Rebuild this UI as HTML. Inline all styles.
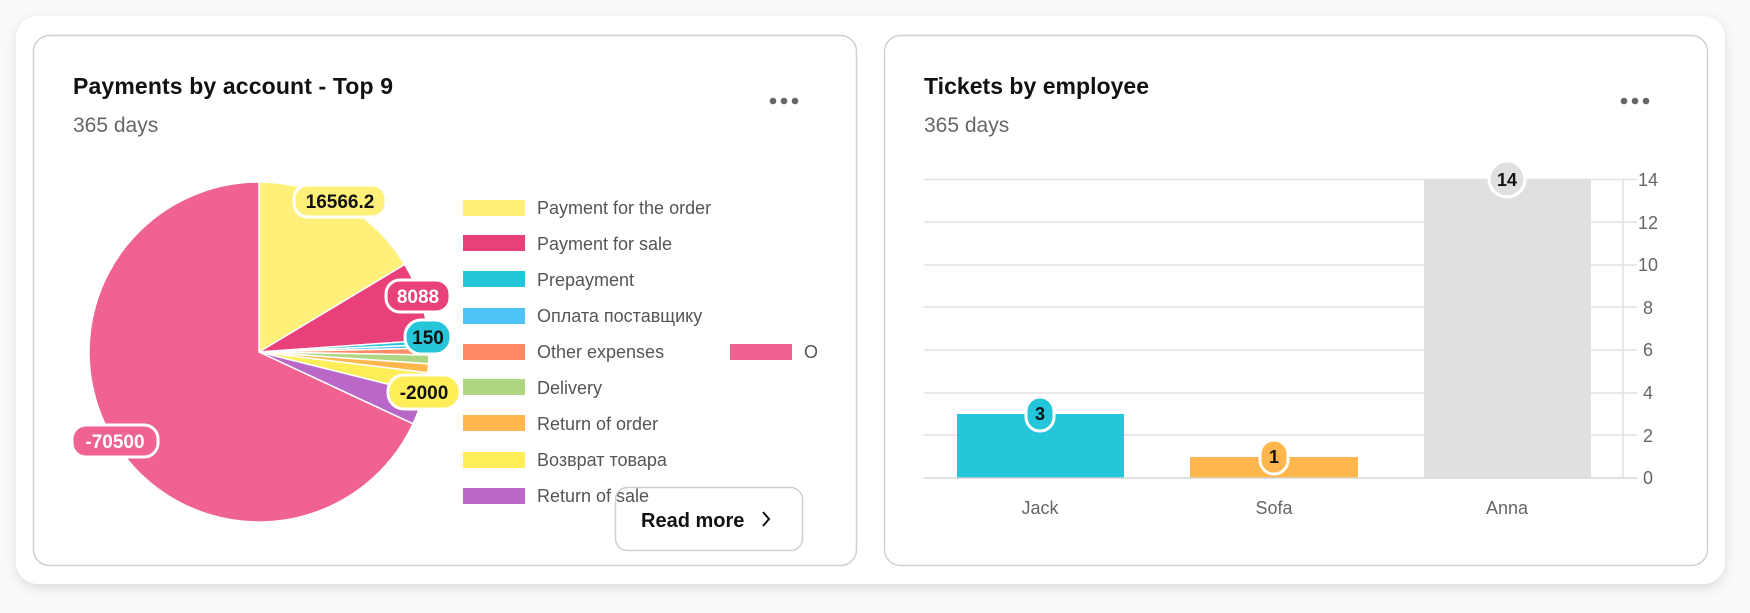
<!DOCTYPE html>
<html><head><meta charset="utf-8"><style>
body{margin:0;width:1750px;height:608px;background:#fafafa;font-family:"Liberation Sans","Noto Sans CJK SC",sans-serif;overflow:hidden}
</style></head><body>
<svg id="s" width="1750" height="608" xmlns="http://www.w3.org/2000/svg" font-family="Liberation Sans, Noto Sans CJK SC, sans-serif">
<defs><filter id="sh" x="-5%" y="-10%" width="110%" height="125%"><feDropShadow dx="0" dy="4" stdDeviation="6" flood-color="#000" flood-opacity="0.12"/></filter></defs>
<rect x="16" y="16" width="1709" height="568" rx="22" fill="#fff" filter="url(#sh)"/>
<rect x="33.5" y="35.5" width="823" height="530" rx="16" fill="#fff" stroke="#d0d0d0" stroke-width="1.5"/>
<rect x="884.5" y="35.5" width="823" height="530" rx="16" fill="#fff" stroke="#d0d0d0" stroke-width="1.5"/>
<text x="73" y="94" font-size="23" font-weight="bold" fill="#111" textLength="320">Payments by account - Top 9</text>
<text x="73" y="132" font-size="21" fill="#666">365 days</text>
<g fill="#666"><circle cx="773" cy="101" r="3.3"/><circle cx="784" cy="101" r="3.3"/><circle cx="795" cy="101" r="3.3"/></g>
<g id="pie" stroke="#fff" stroke-width="1.5"></g>
<g font-size="19" font-weight="bold">
<rect x="294" y="185" width="92" height="32" rx="14" fill="#FFF07A" stroke="#fff" stroke-width="3"/><text x="340" y="208" text-anchor="middle" fill="#111">16566.2</text>
<rect x="386" y="280" width="64" height="32" rx="14" fill="#E8407A" stroke="#fff" stroke-width="3"/><text x="418" y="303" text-anchor="middle" fill="#fff">8088</text>
<rect x="405" y="320" width="46" height="34" rx="16" fill="#26C6DA" stroke="#fff" stroke-width="3"/><text x="428" y="344" text-anchor="middle" fill="#111">150</text>
<rect x="388" y="375" width="72" height="34" rx="16" fill="#FFEE58" stroke="#fff" stroke-width="3"/><text x="424" y="399" text-anchor="middle" fill="#111">-2000</text>
<rect x="72" y="425" width="86" height="32" rx="14" fill="#F06292" stroke="#fff" stroke-width="3"/><text x="115" y="448" text-anchor="middle" fill="#fff">-70500</text>
</g>
<g font-size="18" fill="#555">
<rect x="463" y="200" width="62" height="16" fill="#FFF07A"/><text x="537" y="214">Payment for the order</text>
<rect x="463" y="235" width="62" height="16" fill="#E8407A"/><text x="537" y="250">Payment for sale</text>
<rect x="463" y="271" width="62" height="16" fill="#26C6DA"/><text x="537" y="286">Prepayment</text>
<rect x="463" y="308" width="62" height="16" fill="#4FC3F7"/><text x="537" y="322">Оплата поставщику</text>
<rect x="463" y="344" width="62" height="16" fill="#FF8A65"/><text x="537" y="358">Other expenses</text>
<rect x="463" y="379" width="62" height="16" fill="#AED581"/><text x="537" y="394">Delivery</text>
<rect x="463" y="415" width="62" height="16" fill="#FFB74D"/><text x="537" y="430">Return of order</text>
<rect x="463" y="452" width="62" height="16" fill="#FFEE58"/><text x="537" y="466">Возврат товара</text>
<rect x="463" y="488" width="62" height="16" fill="#BA68C8"/><text x="537" y="502">Return of sale</text>
<rect x="730" y="344" width="62" height="16" fill="#F06292"/><text x="804" y="358">O</text>
</g>
<rect x="615.5" y="487.5" width="187" height="63" rx="12" fill="none" stroke="#cfcfcf" stroke-width="1.5"/>
<text x="641" y="527" font-size="20" font-weight="bold" fill="#111">Read more</text>
<path d="M763 512 l6 7 l-6 7" fill="none" stroke="#111" stroke-width="2"/>

<text x="924" y="94" font-size="23" font-weight="bold" fill="#111" textLength="225">Tickets by employee</text>
<text x="924" y="132" font-size="21" fill="#666">365 days</text>
<g fill="#666"><circle cx="1624" cy="101" r="3.3"/><circle cx="1635" cy="101" r="3.3"/><circle cx="1646" cy="101" r="3.3"/></g>
<g stroke="#e2e2e2" stroke-width="1.5">
<line x1="924" y1="179.5" x2="1637" y2="179.5"/><line x1="924" y1="222" x2="1637" y2="222"/><line x1="924" y1="265" x2="1637" y2="265"/><line x1="924" y1="307" x2="1637" y2="307"/><line x1="924" y1="350" x2="1637" y2="350"/><line x1="924" y1="393" x2="1637" y2="393"/><line x1="924" y1="435" x2="1637" y2="435"/><line x1="1623" y1="179" x2="1623" y2="478"/>
</g>
<rect x="957" y="414" width="167" height="64" fill="#26C6DA"/>
<rect x="1190" y="457" width="168" height="21" fill="#FFB74D"/>
<rect x="1424" y="179" width="167" height="299" fill="#E0E0E0"/>
<line x1="924" y1="478" x2="1637" y2="478" stroke="#d5d5d5" stroke-width="1.5"/>
<g font-size="18" fill="#666" text-anchor="middle">
<text x="1648" y="186">14</text><text x="1648" y="229">12</text><text x="1648" y="271">10</text><text x="1648" y="314">8</text><text x="1648" y="356">6</text><text x="1648" y="399">4</text><text x="1648" y="442">2</text><text x="1648" y="484">0</text>
<text x="1040" y="514">Jack</text><text x="1274" y="514">Sofa</text><text x="1507" y="514">Anna</text>
</g>
<g font-size="18" font-weight="bold" fill="#111" text-anchor="middle">
<rect x="1026" y="397" width="28" height="34" rx="14" fill="#26C6DA" stroke="#fff" stroke-width="3"/><text x="1040" y="420">3</text>
<rect x="1260" y="440" width="28" height="34" rx="14" fill="#FFB74D" stroke="#fff" stroke-width="3"/><text x="1274" y="463">1</text>
<rect x="1489" y="161" width="36" height="36" rx="18" fill="#E0E0E0" stroke="#fff" stroke-width="3"/><text x="1507" y="186">14</text>
</g>
</svg>
<script>
var cx=259,cy=352,r=170,g=document.getElementById('pie');
var sl=[[0,59,'#FFF07A'],[59,86,'#E8407A'],[86,87.5,'#26C6DA'],[87.5,88.7,'#4FC3F7'],[88.7,91,'#FF8A65'],[91,94,'#AED581'],[94,97,'#FFB74D'],[97,104,'#FFEE58'],[104,115,'#BA68C8'],[115,360,'#F06292']];
function pt(a){var t=(a-90)*Math.PI/180;return (cx+r*Math.cos(t)).toFixed(2)+' '+(cy+r*Math.sin(t)).toFixed(2);}
sl.forEach(function(s){var p=document.createElementNS('http://www.w3.org/2000/svg','path');
p.setAttribute('d','M'+cx+' '+cy+' L'+pt(s[0])+' A'+r+' '+r+' 0 '+((s[1]-s[0])>180?1:0)+' 1 '+pt(s[1])+' Z');p.setAttribute('fill',s[2]);g.appendChild(p);});
</script>
</body></html>
